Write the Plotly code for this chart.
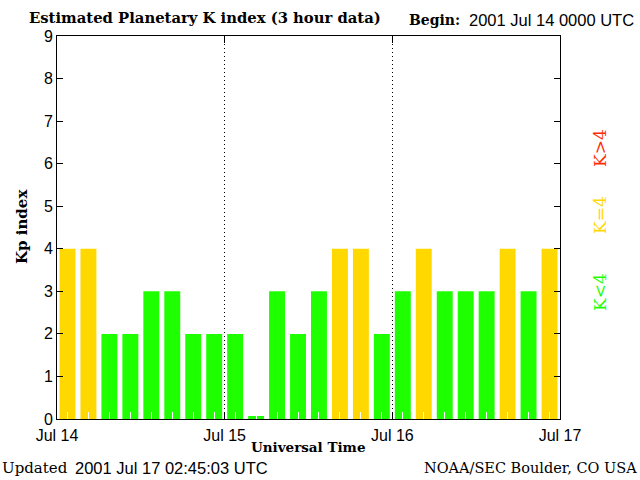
import plotly.graph_objects as go

# ---- data ----
bar_times = [
    "2001-07-14 01:30", "2001-07-14 04:30", "2001-07-14 07:30", "2001-07-14 10:30",
    "2001-07-14 13:30", "2001-07-14 16:30", "2001-07-14 19:30", "2001-07-14 22:30",
    "2001-07-15 01:30", "2001-07-15 04:30", "2001-07-15 07:30", "2001-07-15 10:30",
    "2001-07-15 13:30", "2001-07-15 16:30", "2001-07-15 19:30", "2001-07-15 22:30",
    "2001-07-16 01:30", "2001-07-16 04:30", "2001-07-16 07:30", "2001-07-16 10:30",
    "2001-07-16 13:30", "2001-07-16 16:30", "2001-07-16 19:30", "2001-07-16 22:30",
]
kp_values = [4, 4, 2, 2, 3, 3, 2, 2,
             2, 0.07, 3, 2, 3, 4, 4, 2,
             3, 4, 3, 3, 3, 4, 3, 4]
day_ticks = ["2001-07-14", "2001-07-15", "2001-07-16", "2001-07-17"]
day_labels = ["Jul 14", "Jul 15", "Jul 16", "Jul 17"]
y_ticks = [0, 1, 2, 3, 4, 5, 6, 7, 8, 9]

GREEN = "#1eff00"
YELLOW = "#ffd800"
RED = "#ff2a00"

def color_for(v):
    if v < 4:
        return GREEN
    if v == 4:
        return YELLOW
    return RED

bar_colors = [color_for(v) for v in kp_values]

W, H = 640, 480
L, R, T, B = 57, 80, 36, 61
PW, PH = W - L - R, H - T - B

def px(x):
    return (x - L) / PW

def py(y):
    return (H - B - y) / PH

fig = go.Figure()
fig.add_trace(go.Bar(x=bar_times, y=kp_values, marker=dict(color=bar_colors, line=dict(width=0)),
                     hoverinfo="x+y"))

SERIF = "DejaVu Serif"
SANS = "Liberation Sans"

fig.update_layout(
    width=W, height=H,
    margin=dict(l=L, r=R, t=T, b=B, pad=0),
    paper_bgcolor="white", plot_bgcolor="white",
    showlegend=False,
    bargap=0.24,
    font=dict(family=SANS, size=16, color="black"),
    xaxis=dict(
        type="date",
        range=[day_ticks[0], day_ticks[-1]],
        tickmode="array", tickvals=day_ticks, ticktext=day_labels,
        ticks="inside", ticklen=7, tickcolor="black", tickwidth=1,
        ticklabelstandoff=2,
        showline=True, linecolor="black", linewidth=1, mirror="ticks",
        showgrid=True, gridcolor="black", griddash="1px,3px", gridwidth=1,
        tickfont=dict(family=SANS, size=16),
        minor=dict(tick0="2001-07-14 01:30", dtick=10800000, ticks="inside",
                   ticklen=7, tickcolor="white", tickwidth=1, showgrid=False),
        zeroline=False,
    ),
    yaxis=dict(
        range=[0, 9],
        tickmode="array", tickvals=y_ticks,
        ticks="inside", ticklen=6, tickcolor="black",
        showline=True, linecolor="black", linewidth=1, mirror="ticks",
        showgrid=False, zeroline=False,
        tickfont=dict(family=SANS, size=16),
    ),
)

ann = []
ann.append(dict(text="<b>Estimated Planetary K index (3 hour data)</b>", x=px(27), y=py(18),
                xanchor="left", yanchor="middle", font=dict(family=SERIF, size=14.8)))
ann.append(dict(text="<b>Begin:</b>", x=px(407), y=py(20),
                xanchor="left", yanchor="middle", font=dict(family=SERIF, size=14)))
ann.append(dict(text="2001 Jul 14 0000 UTC", x=px(467), y=py(20),
                xanchor="left", yanchor="middle", font=dict(family=SANS, size=16.5)))
ann.append(dict(text="<b>Kp index</b>", x=px(22), y=py(227), textangle=-90,
                xanchor="center", yanchor="middle", font=dict(family=SERIF, size=15)))
ann.append(dict(text="<b>Universal Time</b>", x=px(308), y=py(447),
                xanchor="center", yanchor="middle", font=dict(family=SERIF, size=13.5)))
ann.append(dict(text="Updated", x=px(0), y=py(468),
                xanchor="left", yanchor="middle", font=dict(family=SERIF, size=15)))
ann.append(dict(text="2001 Jul 17 02:45:03 UTC", x=px(73), y=py(468),
                xanchor="left", yanchor="middle", font=dict(family=SANS, size=16.5)))
ann.append(dict(text="NOAA/SEC Boulder, CO USA", x=px(639), y=py(468),
                xanchor="right", yanchor="middle", font=dict(family=SERIF, size=14.5)))
for label, col, yc in [("K&lt;4", GREEN, 292), ("K=4", YELLOW, 215), ("K&gt;4", RED, 148)]:
    ann.append(dict(text=label, x=px(600), y=py(yc), textangle=-90,
                    xanchor="center", yanchor="middle", font=dict(family=SERIF, size=17, color=col)))

for a in ann:
    a.update(xref="paper", yref="paper", showarrow=False)
fig.update_layout(annotations=ann)

fig.write_html("out.html", config={"displayModeBar": False},
               post_script="document.body.style.margin='0';")
